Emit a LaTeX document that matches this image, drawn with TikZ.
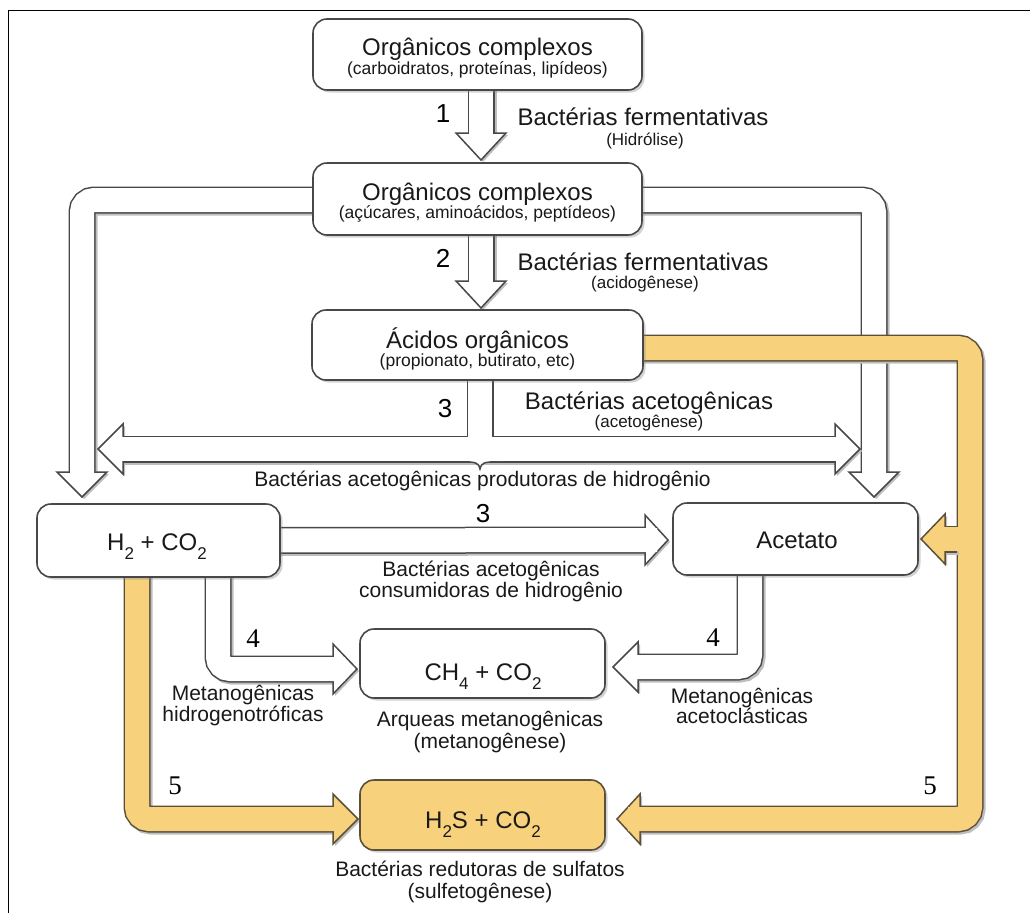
\documentclass[tikz,border=0pt]{standalone}
\usepackage{fontspec}
\setmainfont{Liberation Sans}
\newfontfamily\numserif{Liberation Serif}
\usetikzlibrary{calc,shadows,backgrounds}
\definecolor{outl}{RGB}{72,72,72}
\definecolor{orfill}{RGB}{248,209,125}
\definecolor{orline}{RGB}{92,80,58}
\definecolor{shadowc}{RGB}{190,190,190}
\definecolor{txt}{RGB}{25,25,25}
\newcommand\fsz[1]{\fontsize{#1}{#1}\selectfont}
\newcommand\subs[1]{\raisebox{-0.38em}{\fsz{17}#1}}
% #1 fill, #2 outline, #3 outer path (ends at base), #4 inner path (ends at base), #5 base, #6 tip
\newcommand\fatarrow[6]{%
  \draw[shadowc, line width=27pt, rounded corners=12pt, transform canvas={shift={(2pt,-2pt)}}] #3;
  \fill[shadowc, transform canvas={shift={(2pt,-2pt)}}] ($(#5)!25pt!90:(#6)$) -- (#6) -- ($(#5)!25pt!-90:(#6)$) -- cycle;
  \draw[#2, line width=27pt, rounded corners=12pt] #3;
  \filldraw[fill=#1, draw=#2, line width=1.5pt, line join=miter] ($(#5)!25pt!90:(#6)$) -- (#6) -- ($(#5)!25pt!-90:(#6)$) -- cycle;
  \draw[#1, line width=24pt, rounded corners=12pt] #4 -- ($(#5)!2pt!(#6)$);
}
\tikzset{
  box/.style={draw=outl, line width=1.6pt, fill=white, rounded corners=14pt, inner sep=0pt,
    drop shadow={shadow xshift=2.5pt, shadow yshift=-2.5pt, opacity=0.35}},
  lab/.style={anchor=base, inner sep=0pt, text=txt},
  num/.style={anchor=base, inner sep=0pt, text=black, font=\fsz{26}},
  snum/.style={num, font=\numserif\fsz{27}},
}
\begin{document}
\begin{tikzpicture}[x=1pt,y=-1pt]
\useasboundingbox (0,0) rectangle (1030,913);
\draw[line width=1.8pt, black] (8.5,913) -- (8.5,10.5) -- (1030,10.5);

% boxes
\node[box, minimum width=329pt, minimum height=71pt] (b1) at (477.5,54.5) {};
\node[box, minimum width=329pt, minimum height=72pt] (b2) at (477.5,199) {};
\node[box, minimum width=331pt, minimum height=70pt] (b3) at (477.5,345) {};
\node[box, minimum width=243pt, minimum height=73pt] (h2) at (158.5,540.5) {};
\node[box, minimum width=245pt, minimum height=72pt] (ac) at (795.5,539) {};
\node[box, minimum width=245pt, minimum height=69pt] (ch) at (482.5,663.5) {};
\node[box, fill=orfill, draw=orline, minimum width=245pt, minimum height=70pt] (hs) at (482.5,815) {};

% box texts
\node[lab, font=\fsz{24}] (t1) at (477.5,55) {Orgânicos complexos};
\node[lab, font=\fsz{17.5}] (s1) at (477.5,74) {(carboidratos, proteínas, lipídeos)};
\node[lab, font=\fsz{24}] (t2) at (477.5,200) {Orgânicos complexos};
\node[lab, font=\fsz{17.5}] (s2) at (477.5,218) {(açúcares, aminoácidos, peptídeos)};
\node[lab, font=\fsz{24}] (t3) at (477.5,348) {Ácidos orgânicos};
\node[lab, font=\fsz{17.5}] (s3) at (477.5,366) {(propionato, butirato, etc)};
\node[lab, font=\fsz{24}] (th2) at (157,550) {H\subs{2} + CO\subs{2}};
\node[lab, font=\fsz{24}] (tac) at (797,548) {Acetato};
\node[lab, font=\fsz{24}] (tch) at (483,680) {CH\subs{4} + CO\subs{2}};
\node[lab, font=\fsz{24}] (ths) at (483,828) {H\subs{2}S + CO\subs{2}};

% process labels
\node[lab, font=\fsz{24}] at (643,125) {Bactérias fermentativas};
\node[lab, font=\fsz{17}] at (645,145) {(Hidrólise)};
\node[lab, font=\fsz{24}] at (643,270) {Bactérias fermentativas};
\node[lab, font=\fsz{17}] at (645,288) {(acidogênese)};
\node[lab, font=\fsz{24}] at (649,409) {Bactérias acetogênicas};
\node[lab, font=\fsz{17}] at (649,427) {(acetogênese)};
\node[lab, font=\fsz{21}] at (482.5,486) {Bactérias acetogênicas produtoras de hidrogênio};
\node[lab, font=\fsz{21}] at (491,576) {Bactérias acetogênicas};
\node[lab, font=\fsz{21}] at (491,597) {consumidoras de hidrogênio};
\node[lab, font=\fsz{21}] at (243,700) {Metanogênicas};
\node[lab, font=\fsz{21}] at (243,721) {hidrogenotróficas};
\node[lab, font=\fsz{21}] at (742,703) {Metanogênicas};
\node[lab, font=\fsz{21}] at (742,723) {acetoclásticas};
\node[lab, font=\fsz{21}] at (490,726) {Arqueas metanogênicas};
\node[lab, font=\fsz{21}] at (490,748) {(metanogênese)};
\node[lab, font=\fsz{21}] at (480,876) {Bactérias redutoras de sulfatos};
\node[lab, font=\fsz{21}] at (480,898) {(sulfetogênese)};

% step numbers
\node[num] at (443,122) {1};
\node[num] at (443,267) {2};
\node[num] at (445,417) {3};
\node[num] at (483,522) {3};
\node[snum] at (253,647) {4};
\node[snum] at (713,646) {4};
\node[snum] at (175,794) {5};
\node[snum] at (930,794) {5};

\begin{scope}[on background layer]
% 1 and 2
\fatarrow{white}{outl}{($(b1.south)+(3.5,-6)$) -- (481,133)}{($(b1.south)+(3.5,-6)$) -- (481,133)}{481,133}{481,160}
\fatarrow{white}{outl}{($(b2.south)+(3.5,-6)$) -- (481,281)}{($(b2.south)+(3.5,-6)$) -- (481,281)}{481,281}{481,308}
% side arrows from box 2
\fatarrow{white}{outl}{($(b2.west)+(10,1)$) -- (82,200) -- (82,472)}{($(b2.west)+(10,1)$) -- (82,200) -- (82,472)}{82,472}{82,497}
\fatarrow{white}{outl}{($(b2.east)+(-10,1)$) -- (874,200) -- (874,472)}{($(b2.east)+(-10,1)$) -- (874,200) -- (874,472)}{874,472}{874,497}
% step 3 split arrow
\draw[shadowc, line width=27pt, transform canvas={shift={(2pt,-2pt)}}] (123,449) -- (835,449);
\fill[shadowc, transform canvas={shift={(2pt,-2pt)}}] (123,424) -- (98,449) -- (123,474) -- cycle;
\fill[shadowc, transform canvas={shift={(2pt,-2pt)}}] (835,424) -- (860,449) -- (835,474) -- cycle;
\draw[outl, line width=27pt] (123,449) -- (835,449);
\draw[outl, line width=27pt] ($(b3.south)+(2.5,-6)$) -- (480,449);
\filldraw[fill=white, draw=outl, line width=1.5pt] (123,424) -- (98,449) -- (123,474) -- cycle;
\filldraw[fill=white, draw=outl, line width=1.5pt] (835,424) -- (860,449) -- (835,474) -- cycle;
\draw[white, line width=24pt] (121,449) -- (837,449);
\draw[white, line width=24pt] ($(b3.south)+(2.5,-6)$) -- (480,449);
\fill[white] (462,456) -- (462,461.75) .. controls (476,461.75) and (479,463) .. (480,469) .. controls (481,463) and (484,461.75) .. (498,461.75) -- (498,456) -- cycle;
\draw[outl, line width=1.5pt] (462,461.75) .. controls (476,461.75) and (479,463) .. (480,469) .. controls (481,463) and (484,461.75) .. (498,461.75);
% H2 -> Acetato
\fatarrow{white}{outl}{($(h2.east)+(-8,0)$) -- (645,540)}{($(h2.east)+(-8,0)$) -- (645,540)}{645,540}{668,540}
% 4 arrows
\fatarrow{white}{outl}{(218,565) -- (218,669) -- (333,669)}{(218,565) -- (218,669) -- (333,669)}{333,669}{357,669}
\fatarrow{white}{outl}{(750,565) -- (750,667) -- (638,667)}{(750,565) -- (750,667) -- (638,667)}{638,667}{613,667}
% 5 orange arrows
\fatarrow{orfill}{orline}{(137,565) -- (137,819) -- (333,819)}{(137,565) -- (137,819) -- (333,819)}{333,819}{358,819}
\fatarrow{orfill}{orline}{($(b3.east)+(-10,3)$) -- (970,348) -- (970,819) -- (640,819)}{($(b3.east)+(-10,3)$) -- (970,348) -- (970,819) -- (640,819)}{640,819}{617,819}
\fatarrow{orfill}{orline}{(957,539) -- (945,539)}{(966,539) -- (945,539)}{945,539}{921,539}
\end{scope}
\end{tikzpicture}
\end{document}
